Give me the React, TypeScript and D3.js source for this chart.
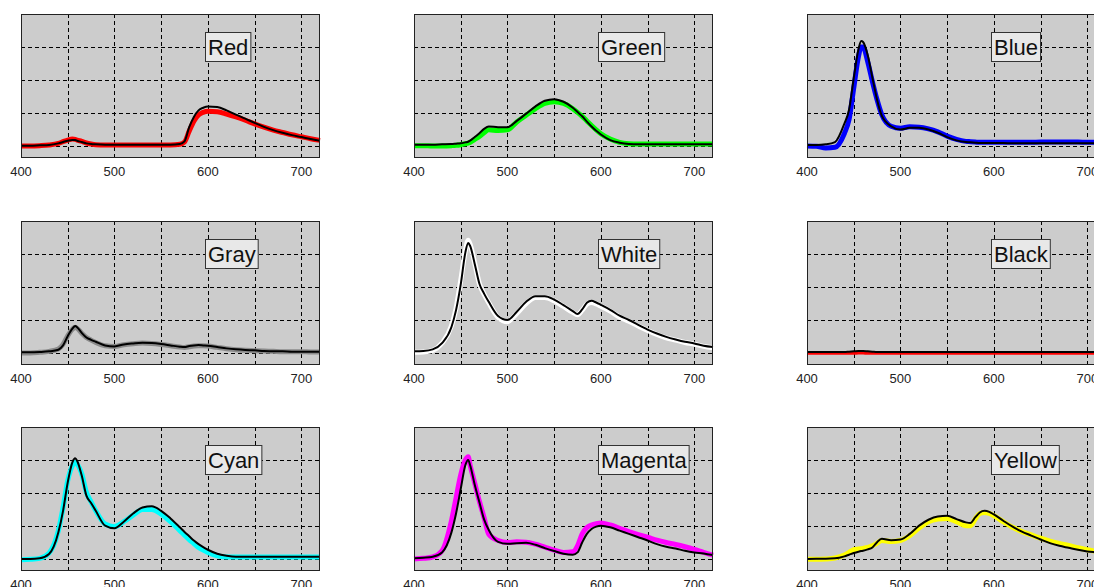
import * as d3 from 'd3';
import { useRef, useLayoutEffect, useState } from 'react';

// wavelengths (nm) shared by every curve, denser around the sharp peaks
const WL = [
  400, 410, 420, 430,
  440, 445, 450, 455, 458, 460,
  465, 470, 475, 480,
  490, 500, 510, 520, 530, 540, 550, 560, 570,
  575, 580, 585, 590, 595, 600,
  610, 620, 630, 640, 650, 660, 670, 680, 690, 700, 710, 720,
];

// black = reference spectrum, *Meas = measured (coloured) spectrum
const redRef = [0.01, 0.01, 0.02, 0.03, 0.08, 0.12, 0.16, 0.18, 0.18, 0.16, 0.12, 0.08, 0.06, 0.05, 0.04, 0.04, 0.04, 0.04, 0.04, 0.04, 0.04, 0.04, 0.06, 0.14, 0.57, 0.88, 1.08, 1.16, 1.2, 1.18, 1.08, 0.95, 0.83, 0.7, 0.58, 0.48, 0.4, 0.33, 0.27, 0.21, 0.16];
const redMeas = [0, 0, 0.01, 0.03, 0.08, 0.13, 0.18, 0.21, 0.2, 0.18, 0.14, 0.09, 0.06, 0.04, 0.03, 0.03, 0.03, 0.03, 0.03, 0.03, 0.03, 0.03, 0.05, 0.12, 0.45, 0.75, 0.94, 1.02, 1.05, 1.04, 0.97, 0.88, 0.78, 0.67, 0.57, 0.48, 0.41, 0.34, 0.28, 0.22, 0.17];

const greenRef = [0.04, 0.04, 0.04, 0.05, 0.06, 0.07, 0.08, 0.11, 0.13, 0.16, 0.27, 0.39, 0.52, 0.59, 0.57, 0.57, 0.76, 0.98, 1.2, 1.37, 1.42, 1.34, 1.16, 1.03, 0.9, 0.74, 0.59, 0.46, 0.35, 0.18, 0.1, 0.06, 0.05, 0.05, 0.05, 0.05, 0.05, 0.05, 0.05, 0.05, 0.05];
const greenMeas = [0.01, 0.01, 0, 0, 0.01, 0.02, 0.04, 0.07, 0.09, 0.11, 0.2, 0.29, 0.4, 0.49, 0.47, 0.49, 0.73, 0.93, 1.13, 1.29, 1.34, 1.29, 1.13, 1.02, 0.9, 0.76, 0.62, 0.49, 0.37, 0.21, 0.11, 0.07, 0.06, 0.06, 0.06, 0.06, 0.06, 0.06, 0.06, 0.06, 0.06];

const blueRef = [0.03, 0.03, 0.05, 0.12, 0.68, 1.1, 2.05, 2.92, 3.18, 3.15, 2.75, 2.07, 1.4, 0.92, 0.6, 0.5, 0.55, 0.55, 0.5, 0.4, 0.27, 0.17, 0.12, 0.11, 0.1, 0.09, 0.09, 0.09, 0.09, 0.09, 0.08, 0.08, 0.08, 0.08, 0.08, 0.08, 0.08, 0.08, 0.08, 0.08, 0.08];
const blueMeas = [0, -0.01, -0.06, -0.04, 0.38, 0.8, 1.75, 2.7, 3.0, 3.0, 2.55, 1.95, 1.4, 0.95, 0.6, 0.54, 0.58, 0.57, 0.52, 0.43, 0.3, 0.2, 0.14, 0.13, 0.12, 0.11, 0.11, 0.11, 0.11, 0.11, 0.11, 0.11, 0.11, 0.12, 0.12, 0.12, 0.12, 0.12, 0.11, 0.11, 0.11];

const grayRef = [0.02, 0.02, 0.03, 0.05, 0.1, 0.23, 0.51, 0.74, 0.82, 0.78, 0.61, 0.47, 0.4, 0.34, 0.23, 0.2, 0.26, 0.29, 0.31, 0.3, 0.27, 0.23, 0.19, 0.18, 0.21, 0.23, 0.24, 0.23, 0.22, 0.18, 0.14, 0.11, 0.09, 0.08, 0.06, 0.05, 0.05, 0.04, 0.04, 0.04, 0.04];
const grayMeas = [0, 0, 0.02, 0.05, 0.12, 0.26, 0.52, 0.72, 0.78, 0.75, 0.6, 0.47, 0.39, 0.32, 0.22, 0.2, 0.25, 0.28, 0.3, 0.29, 0.26, 0.22, 0.18, 0.17, 0.19, 0.21, 0.22, 0.22, 0.21, 0.17, 0.13, 0.1, 0.08, 0.07, 0.06, 0.05, 0.04, 0.04, 0.04, 0.03, 0.03];

const whiteRef = [0.05, 0.06, 0.11, 0.3, 0.78, 1.3, 2.07, 3.05, 3.33, 3.25, 2.7, 2.1, 1.8, 1.55, 1.12, 1.0, 1.25, 1.55, 1.72, 1.72, 1.62, 1.45, 1.27, 1.18, 1.32, 1.52, 1.58, 1.53, 1.46, 1.31, 1.13, 1.0, 0.85, 0.71, 0.59, 0.49, 0.41, 0.34, 0.29, 0.22, 0.18];
const whiteMeas = [0.02, 0.03, 0.08, 0.3, 0.82, 1.35, 2.2, 3.1, 3.42, 3.3, 2.72, 2.1, 1.78, 1.52, 1.08, 0.95, 1.2, 1.5, 1.68, 1.68, 1.58, 1.41, 1.23, 1.16, 1.3, 1.48, 1.53, 1.49, 1.42, 1.27, 1.09, 0.96, 0.82, 0.68, 0.56, 0.46, 0.39, 0.32, 0.27, 0.2, 0.16];

const blackRef = [0.03, 0.03, 0.03, 0.03, 0.03, 0.04, 0.05, 0.06, 0.06, 0.06, 0.05, 0.04, 0.03, 0.03, 0.03, 0.03, 0.03, 0.03, 0.03, 0.03, 0.03, 0.03, 0.03, 0.03, 0.03, 0.03, 0.03, 0.03, 0.03, 0.03, 0.03, 0.03, 0.03, 0.03, 0.03, 0.03, 0.03, 0.03, 0.03, 0.03, 0.03];
const blackMeas = [-0.01, -0.01, -0.01, -0.01, -0.01, -0.01, -0.01, 0, 0, 0, -0.01, -0.01, -0.01, -0.01, -0.01, -0.01, -0.01, -0.01, -0.01, -0.01, -0.01, -0.01, -0.01, -0.01, -0.01, -0.01, -0.01, -0.01, -0.01, -0.01, -0.01, -0.01, -0.01, -0.01, -0.01, -0.01, -0.01, -0.01, -0.01, -0.01, -0.01];

const cyanRef = [0, 0, 0.02, 0.15, 0.81, 1.46, 2.32, 2.93, 3.05, 2.98, 2.53, 1.92, 1.7, 1.46, 1.01, 0.93, 1.13, 1.38, 1.56, 1.6, 1.46, 1.23, 0.96, 0.82, 0.69, 0.56, 0.45, 0.36, 0.28, 0.16, 0.1, 0.07, 0.07, 0.07, 0.07, 0.07, 0.07, 0.07, 0.07, 0.07, 0.07];
const cyanMeas = [-0.02, -0.01, 0.02, 0.18, 0.86, 1.56, 2.37, 2.83, 2.93, 2.88, 2.58, 2.02, 1.73, 1.46, 1.06, 0.98, 1.13, 1.33, 1.5, 1.5, 1.36, 1.13, 0.86, 0.72, 0.59, 0.47, 0.35, 0.27, 0.2, 0.1, 0.06, 0.06, 0.06, 0.06, 0.06, 0.06, 0.06, 0.06, 0.06, 0.06, 0.06];

const magentaRef = [0.02, 0.04, 0.07, 0.2, 0.8, 1.38, 2.12, 2.85, 3.0, 2.85, 2.25, 1.72, 1.2, 0.88, 0.52, 0.46, 0.48, 0.49, 0.43, 0.33, 0.24, 0.16, 0.13, 0.2, 0.5, 0.76, 0.91, 0.98, 1.01, 0.96, 0.86, 0.76, 0.66, 0.56, 0.45, 0.37, 0.32, 0.25, 0.2, 0.17, 0.12];
const magentaMeas = [0, 0.02, 0.06, 0.25, 1.15, 1.85, 2.55, 3.0, 3.1, 2.85, 2.3, 1.75, 1.25, 0.75, 0.56, 0.5, 0.52, 0.51, 0.45, 0.36, 0.27, 0.2, 0.22, 0.4, 0.76, 0.95, 1.03, 1.07, 1.09, 1.03, 0.93, 0.83, 0.74, 0.66, 0.57, 0.5, 0.44, 0.37, 0.29, 0.2, 0.12];

const yellowRef = [0, 0.01, 0.01, 0.02, 0.08, 0.13, 0.18, 0.22, 0.24, 0.25, 0.29, 0.35, 0.51, 0.61, 0.57, 0.59, 0.76, 1.01, 1.19, 1.29, 1.31, 1.21, 1.11, 1.09, 1.26, 1.41, 1.46, 1.43, 1.35, 1.16, 0.98, 0.83, 0.71, 0.59, 0.48, 0.4, 0.34, 0.28, 0.23, 0.2, 0.17];
const yellowMeas = [-0.01, -0.01, 0, 0.03, 0.12, 0.2, 0.28, 0.3, 0.31, 0.32, 0.35, 0.4, 0.48, 0.56, 0.53, 0.56, 0.71, 0.94, 1.13, 1.21, 1.23, 1.13, 1.01, 1.01, 1.21, 1.38, 1.41, 1.38, 1.31, 1.13, 0.96, 0.83, 0.73, 0.63, 0.54, 0.47, 0.41, 0.34, 0.28, 0.23, 0.19];

const NAMES = ['Red', 'Green', 'Blue', 'Gray', 'White', 'Black', 'Cyan', 'Magenta', 'Yellow'];
const COLORS = ['#ff0000', '#00ff00', '#0000ff', '#8a8a8a', '#ffffff', '#ff0000', '#00ffff', '#ff00ff', '#ffff00'];
const REFS = [redRef, greenRef, blueRef, grayRef, whiteRef, blackRef, cyanRef, magentaRef, yellowRef];
const MEAS = [redMeas, greenMeas, blueMeas, grayMeas, whiteMeas, blackMeas, cyanMeas, magentaMeas, yellowMeas];

const X_TICKS = [400, 500, 600, 700];
const X_GRID = [450, 500, 550, 600, 650, 700];
const Y_GRID = [0, 1, 2, 3];

const width = 1094;
const height = 587;
const panelW = 299;
const panelH = 144;
const colStep = 392.8;
const rowStep = 206.5;
const left0 = 21;
const top0 = 14;

function Label({ x, y, text }) {
  const ref = useRef(null);
  const [w, setW] = useState(text.length * 12);
  useLayoutEffect(() => {
    if (ref.current) setW(ref.current.getComputedTextLength());
  }, [text]);
  return (
    <g transform={`translate(${x},${y})`}>
      <rect x={0.5} y={0.5} width={w + 5} height={29} fill="#e8e8e8" stroke="#333" strokeWidth={1} />
      <text
        ref={ref}
        x={3}
        y={23}
        fontFamily="'Liberation Sans', Arial, sans-serif"
        fontSize={22}
        fill="#111"
      >
        {text}
      </text>
    </g>
  );
}

function Panel({ i }) {
  const col = i % 3;
  const row = Math.floor(i / 3);
  const x0 = Math.round(left0 + col * colStep);
  const y0 = Math.round(top0 + row * rowStep);

  const x = d3.scaleLinear().domain([400, 720]).range([0, panelW]);
  const y = d3.scaleLinear().domain([-12 / 33, 4]).range([panelH, 0]);

  const line = d3
    .line()
    .x((d) => x(d[0]))
    .y((d) => y(d[1]))
    .curve(d3.curveMonotoneX);

  const meas = WL.map((w, k) => [w, MEAS[i][k]]);
  const ref = WL.map((w, k) => [w, REFS[i][k]]);
  const measW = i === 5 ? 3 : 5;

  return (
    <g transform={`translate(${x0},${y0})`}>
      <rect x={0} y={0} width={panelW} height={panelH} fill="#cccccc" />
      {X_GRID.map((g) => (
        <line
          key={'vx' + g}
          x1={Math.round(x(g)) + 0.5}
          x2={Math.round(x(g)) + 0.5}
          y1={0}
          y2={panelH}
          stroke="#000"
          strokeWidth={1}
          strokeDasharray="4,3"
        />
      ))}
      {Y_GRID.map((g) => (
        <line
          key={'hy' + g}
          x1={0}
          x2={panelW}
          y1={Math.round(y(g)) + 0.5}
          y2={Math.round(y(g)) + 0.5}
          stroke="#000"
          strokeWidth={1}
          strokeDasharray="4,3"
        />
      ))}
      <path d={line(meas)} fill="none" stroke={COLORS[i]} strokeWidth={measW} strokeLinejoin="round" />
      <path d={line(ref)} fill="none" stroke="#000" strokeWidth={2} strokeLinejoin="round" />
      <rect x={0.5} y={0.5} width={panelW - 1} height={panelH - 1} fill="none" stroke="#222" strokeWidth={1} />
      <Label x={184} y={18} text={NAMES[i]} />
      {X_TICKS.map((t) => (
        <text
          key={'t' + t}
          x={x(t)}
          y={panelH + 18}
          textAnchor="middle"
          fontFamily="'Liberation Sans', Arial, sans-serif"
          fontSize={13}
          fill="#222"
        >
          {t}
        </text>
      ))}
    </g>
  );
}

export default function App() {
  return (
    <svg
      width={width}
      height={height}
      style={{ position: 'absolute', left: 0, top: 0, background: '#fff' }}
    >
      {NAMES.map((n, i) => (
        <Panel key={n} i={i} />
      ))}
    </svg>
  );
}
